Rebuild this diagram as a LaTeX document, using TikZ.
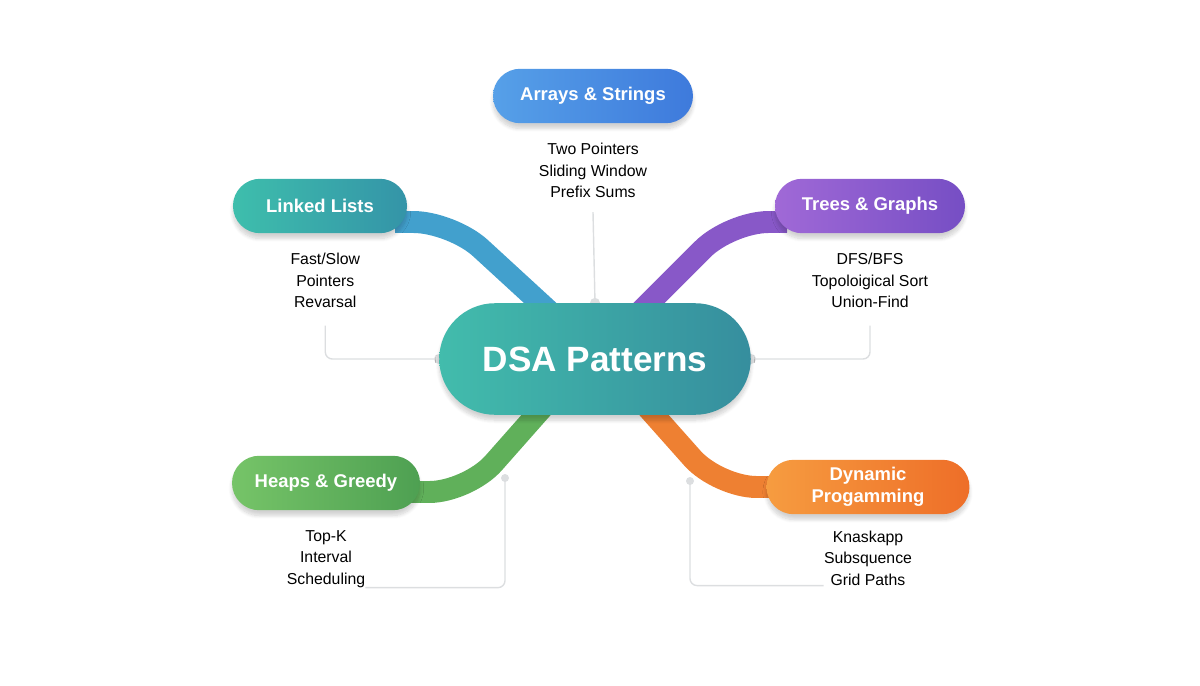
\documentclass[tikz,border=0pt]{standalone}
\usepackage{fontspec}
\setmainfont{Liberation Sans}
\usetikzlibrary{positioning,shapes.misc,backgrounds,shadows.blur}
\definecolor{arrL}{RGB}{86,160,232}
\definecolor{arrR}{RGB}{62,122,220}
\definecolor{llL}{RGB}{62,190,172}
\definecolor{llR}{RGB}{52,148,168}
\definecolor{trL}{RGB}{160,105,215}
\definecolor{trR}{RGB}{118,78,196}
\definecolor{hpL}{RGB}{118,196,104}
\definecolor{hpR}{RGB}{78,160,82}
\definecolor{dpL}{RGB}{246,156,64}
\definecolor{dpR}{RGB}{238,110,40}
\definecolor{ctL}{RGB}{66,188,172}
\definecolor{ctR}{RGB}{54,142,158}
\definecolor{bandB}{RGB}{66,160,205}
\definecolor{bandP}{RGB}{136,88,200}
\definecolor{bandG}{RGB}{96,176,90}
\definecolor{bandO}{RGB}{238,128,50}
\definecolor{greyln}{RGB}{220,222,224}
\tikzstyle{pill}=[rounded rectangle, text=white, font=\fontsize{10.5}{12}\selectfont\bfseries,
                  minimum height=31pt, inner xsep=10pt, align=center,
                  blur shadow={shadow blur steps=8, shadow opacity=18, shadow yshift=-3pt, shadow xshift=0pt}]
\tikzstyle{items}=[align=center, font=\fontsize{9}{12.2}\selectfont, inner sep=0pt]
\tikzstyle{band}=[line width=12.5pt, rounded corners=22pt]
\tikzstyle{tline}=[-, draw=greyln, line width=0.8pt, rounded corners=4pt]

\begin{document}
\begin{tikzpicture}[x=0.02cm, y=-0.02cm]
\useasboundingbox (0,0) rectangle (1200,686);

\node (DSA) [pill, left color=ctL, right color=ctR, minimum width=348*0.567pt,
  minimum height=112*0.567pt, font=\fontsize{20}{24}\selectfont\bfseries] at (595,359) {DSA Patterns};

\node (ARR) [pill, left color=arrL, right color=arrR, minimum width=236*0.567pt] at (593,96) {Arrays \& Strings};
\node (ARRI) [items, below=11pt of ARR] {Two Pointers\\Sliding Window\\Prefix Sums};

\node (LL) [pill, left color=llL, right color=llR, minimum width=210*0.567pt] at (320,206) {Linked Lists};
\node (LLI) [items, below=11pt of LL, xshift=3pt] {Fast/Slow\\Pointers\\Revarsal};

\node (TG) [pill, left color=trL, right color=trR, minimum width=226*0.567pt] at (870,206) {Trees \& Graphs};
\node (TGI) [items, below=11pt of TG] {DFS/BFS\\Topoloigical Sort\\Union-Find};

\node (HG) [pill, left color=hpL, right color=hpR, minimum width=224*0.567pt] at (326,483) {Heaps \& Greedy};
\node (HGI) [items, below=11pt of HG] {Top-K\\Interval\\Scheduling};

\node (DP) [pill, left color=dpL, right color=dpR, minimum width=239*0.567pt, font=\fontsize{10.5}{12.5}\selectfont\bfseries] at (868,487) {Dynamic\\Progamming};
\node (DPI) [items, below=9pt of DP] {Knaskapp\\Subsquence\\Grid Paths};

% band ends
\coordinate (llS) at (395,222);
\coordinate (llE) at (550,312);
\coordinate (tgS) at (787,222);
\coordinate (tgE) at (640,312);
\coordinate (hgS) at (405,492);
\coordinate (hgE) at (544,406);
\coordinate (dpS) at (780,487);
\coordinate (dpE) at (646,406);
\coordinate (hgT) at (505,478);
\coordinate (dpT) at (690,481);

\begin{scope}[on background layer]
 \draw[band, bandB] (llS) -- ++(57,0) -- (llE);
 \draw[band, bandP] (tgS) -- ++(-57,0) -- (tgE);
 \draw[band, bandG] (hgS) -- ++(63,0) -- (hgE);
 \draw[band, bandO] (dpS) -- ++(-62,0) -- (dpE);
 \draw[tline] (ARRI.south) ++(0,-8pt) -- (DSA.north);
 \draw[tline] (LLI.south) ++(0,-10pt) |- (DSA.west);
 \draw[tline] (TGI.south) ++(0,-10pt) |- (DSA.east);
 \draw[tline] (hgT) |- (HGI.south east);
 \draw[tline] (dpT) |- (DPI.south west);
 \fill[greyln] (DSA.north) circle (5);
 \fill[greyln] (DSA.west) circle (5);
 \fill[greyln] (DSA.east) circle (5);
 \fill[greyln] (hgT) circle (4);
 \fill[greyln] (dpT) circle (4);
\end{scope}

\end{tikzpicture}
\end{document}
